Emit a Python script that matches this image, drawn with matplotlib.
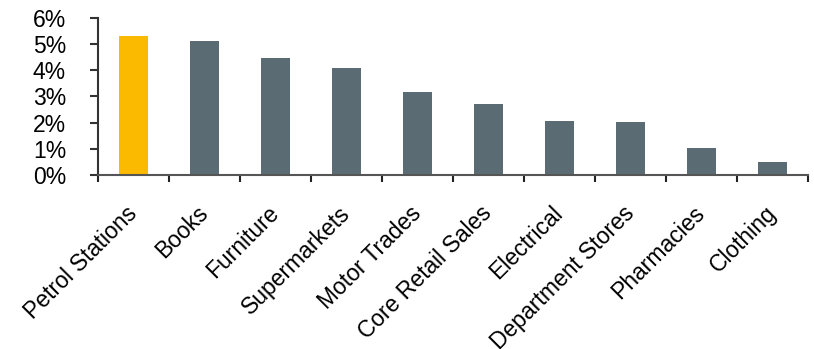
import numpy as np
import matplotlib.pyplot as plt
from matplotlib.ticker import FuncFormatter

# Retail categories and their values (percent)
categories = ['Petrol Stations', 'Books', 'Furniture', 'Supermarkets', 'Motor Trades',
              'Core Retail Sales', 'Electrical', 'Department Stores', 'Pharmacies', 'Clothing']
values = [5.31, 5.12, 4.47, 4.09, 3.17, 2.71, 2.06, 2.02, 1.02, 0.49]
highlight = 'Petrol Stations'

plt.rcParams['font.family'] = ['Liberation Sans', 'DejaVu Sans']

fig = plt.figure(figsize=(8.14, 3.49), dpi=100)
ax = fig.add_axes([0.1204, 0.4986, 0.8722, 0.4498])

x = np.arange(len(categories))
colors = ['#FBB900' if c == highlight else '#5A6B74' for c in categories]
ax.bar(x, values, width=0.41, color=colors, zorder=2)

ax.set_xlim(-0.5, len(categories) - 0.5)
ax.set_ylim(0, 6)
ax.set_yticks(range(0, 7))
ax.yaxis.set_major_formatter(FuncFormatter(lambda v, p: f'{int(v)}%'))

# category labels at the centres, tick marks at the boundaries
ax.set_xticks(x)
ax.set_xticklabels(categories, rotation=45, ha='right', va='center',
                   rotation_mode='anchor', fontsize=16.5)
ax.set_xticks(np.arange(-0.5, len(categories)), minor=True)
ax.tick_params(axis='x', which='major', length=0, pad=25)
ax.tick_params(axis='x', which='minor', length=5, width=1.5, direction='out', color='#222222')
ax.tick_params(axis='y', length=6, width=1.5, direction='out', color='#333333', labelsize=16.5, pad=17)

for s in ['top', 'right']:
    ax.spines[s].set_visible(False)
ax.spines['left'].set_color('#333333')
ax.spines['left'].set_linewidth(1.5)
ax.spines['bottom'].set_color('#555555')
ax.spines['bottom'].set_linewidth(1.5)

plt.savefig('out.png', dpi=100)
